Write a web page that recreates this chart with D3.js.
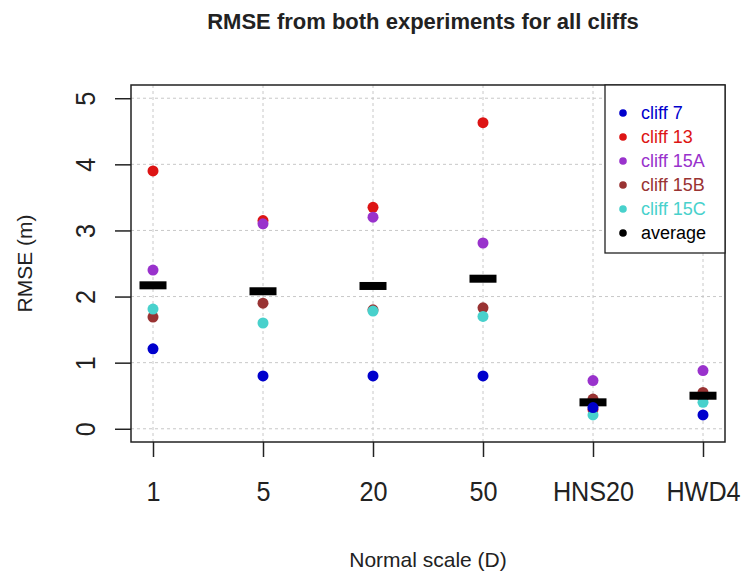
<!DOCTYPE html>
<html>
<head>
<meta charset="utf-8">
<script src="https://cdn.jsdelivr.net/npm/d3@7"></script>
<style>
  html, body { margin: 0; padding: 0; background: #fff; }
  svg { display: block; font-family: "Liberation Sans", Arial, sans-serif; }
</style>
</head>
<body>
<svg id="chart" width="742" height="574"></svg>
<script>
// Normal-scale categories along the x axis
const categories = ["1", "5", "20", "50", "HNS20", "HWD4"];
const yTicks = [0, 1, 2, 3, 4, 5];

// RMSE (m) per cliff, one value per category
const cliff7   = [1.21, 0.80, 0.80, 0.80, 0.32, 0.21];
const cliff13  = [3.90, 3.15, 3.35, 4.63, 0.29, 0.46];
const cliff15A = [2.40, 3.10, 3.20, 2.81, 0.73, 0.88];
const cliff15B = [1.69, 1.90, 1.80, 1.83, 0.45, 0.55];
const cliff15C = [1.81, 1.60, 1.78, 1.70, 0.21, 0.40];
const average  = [2.17, 2.08, 2.16, 2.27, 0.40, 0.50];

const seriesNames  = ["cliff 7", "cliff 13", "cliff 15A", "cliff 15B", "cliff 15C", "average"];
const seriesColors = ["#0000cd", "#dd1414", "#9932cc", "#993333", "#48d1cc", "#000000"];

const svg = d3.select("#chart");
const plot = { left: 131, right: 725, top: 85, bottom: 442 };

// R-style 4% padding on both axes
const x = d3.scaleLinear().domain([-0.2, 5.2]).range([plot.left, plot.right]);
const y = d3.scaleLinear().domain([-0.2, 5.2]).range([plot.bottom, plot.top]);

// dotted grid
const grid = svg.append("g").attr("stroke", "#c8c8c8").attr("stroke-dasharray", "3,3").attr("stroke-width", 1);
grid.selectAll("line.gx").data(categories).join("line")
  .attr("x1", (d, i) => x(i)).attr("x2", (d, i) => x(i))
  .attr("y1", plot.top).attr("y2", plot.bottom);
grid.selectAll("line.gy").data(yTicks).join("line")
  .attr("x1", plot.left).attr("x2", plot.right)
  .attr("y1", d => y(d)).attr("y2", d => y(d));

// axes
const xAxis = d3.axisBottom(x).tickValues(d3.range(categories.length))
  .tickFormat(i => categories[i]).tickSize(15).tickPadding(0);
const gx = svg.append("g").attr("transform", `translate(0,${plot.bottom})`).call(xAxis);
gx.select(".domain").remove();
gx.selectAll("line").attr("stroke", "#222").attr("stroke-width", 1.5);
gx.selectAll("text").attr("font-size", 28).attr("fill", "#222")
  .attr("font-family", "Liberation Sans, Arial, sans-serif")
  .attr("y", null).attr("dy", null)
  .attr("transform", "translate(0,59) scale(0.9,1)");

const yAxis = d3.axisLeft(y).tickValues(yTicks).tickSize(16).tickPadding(0).tickFormat(d3.format("d"));
const gy = svg.append("g").attr("transform", `translate(${plot.left},0)`).call(yAxis);
gy.select(".domain").remove();
gy.selectAll("line").attr("stroke", "#222").attr("stroke-width", 1.5);
gy.selectAll("text")
  .attr("font-size", 28).attr("fill", "#222")
  .attr("font-family", "Liberation Sans, Arial, sans-serif")
  .attr("text-anchor", "middle").attr("dy", null).attr("x", null)
  .attr("transform", "translate(-36,0) rotate(-90) scale(0.9,1)");

// plot frame
svg.append("rect")
  .attr("x", plot.left).attr("y", plot.top)
  .attr("width", plot.right - plot.left).attr("height", plot.bottom - plot.top)
  .attr("fill", "none").attr("stroke", "#222").attr("stroke-width", 1.5);

// points (drawing order keeps overlaps as printed)
const pointSeries = [
  { vals: cliff13,  color: seriesColors[1] },
  { vals: cliff15A, color: seriesColors[2] },
  { vals: cliff15B, color: seriesColors[3] },
  { vals: cliff15C, color: seriesColors[4] },
];
pointSeries.forEach(s => {
  svg.append("g").selectAll("circle").data(s.vals).join("circle")
    .attr("cx", (d, i) => x(i)).attr("cy", d => y(d)).attr("r", 5.5).attr("fill", s.color);
});

// averages as thick black bars
const barW = 27, barH = 8;
svg.append("g").selectAll("rect").data(average).join("rect")
  .attr("x", (d, i) => x(i) - barW / 2).attr("y", d => y(d) - barH / 2)
  .attr("width", barW).attr("height", barH).attr("fill", "#000");

svg.append("g").selectAll("circle").data(cliff7).join("circle")
  .attr("cx", (d, i) => x(i)).attr("cy", d => y(d)).attr("r", 5.5).attr("fill", seriesColors[0]);

// legend
const lg = svg.append("g");
lg.append("rect").attr("x", 605).attr("y", plot.top).attr("width", plot.right - 605).attr("height", 168)
  .attr("fill", "#fff").attr("stroke", "#222").attr("stroke-width", 1.3);
seriesNames.forEach((name, i) => {
  const cy = 113 + i * 24;
  lg.append("circle").attr("cx", 623).attr("cy", cy).attr("r", 3.8).attr("fill", seriesColors[i]);
  lg.append("text").attr("x", 641).attr("y", cy).attr("dy", "0.35em")
    .attr("font-size", 18).attr("fill", seriesColors[i]).text(name);
});

// titles
svg.append("text").attr("x", 423).attr("y", 29).attr("text-anchor", "middle")
  .attr("font-size", 22).attr("font-weight", "bold").attr("fill", "#222")
  .text("RMSE from both experiments for all cliffs");
svg.append("text").attr("x", 428).attr("y", 567).attr("text-anchor", "middle")
  .attr("font-size", 21).attr("fill", "#222").text("Normal scale (D)");
svg.append("text").attr("transform", `translate(32,${(plot.top + plot.bottom) / 2}) rotate(-90)`)
  .attr("text-anchor", "middle").attr("font-size", 21).attr("fill", "#222").text("RMSE (m)");
</script>
</body>
</html>
